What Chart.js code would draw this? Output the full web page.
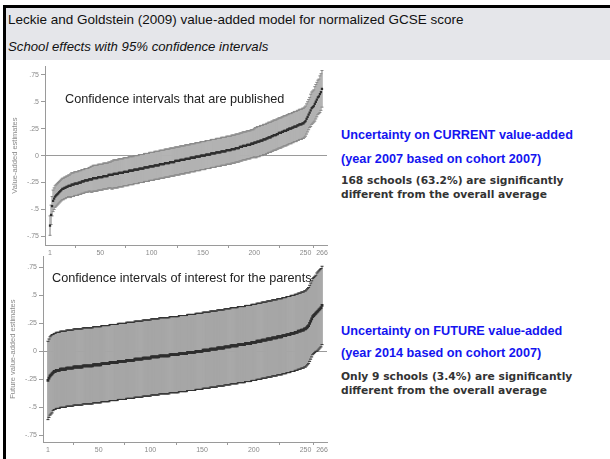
<!DOCTYPE html>
<html>
<head>
  <meta charset="utf-8">
  <title>Leckie and Goldstein (2009)</title>
  <script src="https://cdn.jsdelivr.net/npm/chart.js@4.4.1/dist/chart.umd.min.js"></script>
  <style>
    body { margin: 0; width: 610px; height: 459px; overflow: hidden; background: #fff; position: relative; font-family: "Liberation Sans", Arial, sans-serif; }
    .abs { position: absolute; white-space: nowrap; }
    #borderTop { left: 3px; top: 5px; width: 607px; height: 3px; background: #000; }
    #borderLeft { left: 3px; top: 5px; width: 3px; height: 454px; background: #000; }
    #header { left: 6px; top: 8px; width: 604px; height: 52px; background: #e5e6ea; }
    #title { left: 8px; top: 12px; font-size: 13.5px; color: #111; }
    #subtitle { left: 8px; top: 39px; font-size: 13.2px; font-style: italic; color: #111; }
    canvas { position: absolute; }
    .note { font-size: 12.7px; color: #222; }
    .blue { font-size: 12.7px; font-weight: bold; color: #1414f0; }
    .black { font-size: 10.7px; font-weight: bold; color: #333; font-family: "DejaVu Sans", Verdana, sans-serif; line-height: 14px; }
  </style>
</head>
<body>
  <div id="borderTop" class="abs"></div>
  <div id="borderLeft" class="abs"></div>
  <div id="header" class="abs"></div>
  <div id="title" class="abs">Leckie and Goldstein (2009) value-added model for normalized GCSE score</div>
  <div id="subtitle" class="abs">School effects with 95% confidence intervals</div>

  <canvas id="currentChart" width="340" height="200" style="left:0;top:60px"></canvas>
  <canvas id="futureChart" width="340" height="222" style="left:0;top:250px"></canvas>

  <div class="abs note" style="left:65px;top:92px">Confidence intervals that are published</div>
  <div class="abs note" style="left:52px;top:271px">Confidence intervals of interest for the parents</div>

  <div class="abs blue" style="left:341px;top:128px">Uncertainty on CURRENT value-added</div>
  <div class="abs blue" style="left:341px;top:152px">(year 2007 based on cohort 2007)</div>
  <div class="abs black" style="left:341px;top:174px">168 schools (63.2%) are significantly<br>different from the overall average</div>

  <div class="abs blue" style="left:341px;top:324px">Uncertainty on FUTURE value-added</div>
  <div class="abs blue" style="left:341px;top:346px">(year 2014 based on cohort 2007)</div>
  <div class="abs black" style="left:341px;top:370px">Only 9 schools (3.4%) are significantly<br>different from the overall average</div>

  <script>
    // ranks 1..266 (schools ordered by estimate)
    const schoolCount = 266;
    const ranks = Array.from({ length: schoolCount }, (_, i) => i + 1);
    const rankTicks = [1, 50, 100, 150, 200, 250, 266];
    const yTicks = [-0.75, -0.5, -0.25, 0, 0.25, 0.5, 0.75];
    const yTickLabels = ['-.75', '-.5', '-.25', '0', '.25', '.5', '.75'];

    // current value-added estimates (year 2007)
    const currentEst = [
      -0.65,-0.55,-0.47,-0.42,-0.40,-0.38,-0.37,-0.36,-0.35,-0.34,
      -0.33,-0.32,-0.31,-0.31,-0.30,-0.30,-0.29,-0.29,-0.28,-0.28,
      -0.28,-0.27,-0.27,-0.27,-0.26,-0.26,-0.26,-0.26,-0.25,-0.25,
      -0.25,-0.24,-0.24,-0.24,-0.23,-0.23,-0.23,-0.23,-0.22,-0.22,
      -0.22,-0.22,-0.21,-0.21,-0.21,-0.21,-0.21,-0.20,-0.20,-0.20,
      -0.20,-0.20,-0.19,-0.19,-0.19,-0.19,-0.19,-0.18,-0.18,-0.18,
      -0.18,-0.18,-0.17,-0.17,-0.17,-0.17,-0.17,-0.16,-0.16,-0.16,
      -0.16,-0.16,-0.15,-0.15,-0.15,-0.15,-0.15,-0.14,-0.14,-0.14,
      -0.14,-0.14,-0.13,-0.13,-0.13,-0.13,-0.13,-0.12,-0.12,-0.12,
      -0.12,-0.12,-0.11,-0.11,-0.11,-0.11,-0.11,-0.10,-0.10,-0.10,
      -0.10,-0.10,-0.09,-0.09,-0.09,-0.09,-0.09,-0.08,-0.08,-0.08,
      -0.08,-0.08,-0.07,-0.07,-0.07,-0.07,-0.07,-0.06,-0.06,-0.06,
      -0.06,-0.06,-0.05,-0.05,-0.05,-0.05,-0.05,-0.04,-0.04,-0.04,
      -0.04,-0.04,-0.03,-0.03,-0.03,-0.03,-0.03,-0.02,-0.02,-0.02,
      -0.02,-0.02,-0.01,-0.01,-0.01,-0.01,-0.01,0.00,0.00,0.00,
      0.00,0.00,0.01,0.01,0.01,0.01,0.01,0.02,0.02,0.02,
      0.02,0.02,0.03,0.03,0.03,0.03,0.03,0.04,0.04,0.04,
      0.04,0.04,0.05,0.05,0.05,0.05,0.05,0.06,0.06,0.06,
      0.06,0.07,0.07,0.07,0.07,0.08,0.08,0.08,0.09,0.09,
      0.09,0.09,0.10,0.10,0.10,0.10,0.11,0.11,0.11,0.12,
      0.12,0.12,0.13,0.13,0.13,0.14,0.14,0.14,0.15,0.15,
      0.15,0.16,0.16,0.17,0.17,0.17,0.18,0.18,0.19,0.19,
      0.19,0.20,0.20,0.21,0.21,0.21,0.22,0.22,0.23,0.23,
      0.23,0.24,0.24,0.25,0.25,0.25,0.26,0.26,0.27,0.27,
      0.27,0.28,0.28,0.29,0.29,0.29,0.30,0.30,0.31,0.32,
      0.34,0.36,0.38,0.40,0.42,0.44,0.45,0.46,0.48,0.50,
      0.52,0.54,0.55,0.57,0.59,0.62
    ];
    // half width of the 95% interval for each school
    const currentHalf = [
      0.09,0.09,0.09,0.10,0.10,0.10,0.10,0.10,0.10,0.10,
      0.10,0.10,0.10,0.10,0.10,0.10,0.10,0.10,0.10,0.10,
      0.11,0.11,0.11,0.11,0.11,0.11,0.11,0.11,0.11,0.11,
      0.11,0.11,0.11,0.11,0.11,0.11,0.11,0.11,0.11,0.11,
      0.12,0.12,0.12,0.12,0.12,0.12,0.12,0.12,0.12,0.12,
      0.12,0.12,0.12,0.12,0.12,0.12,0.12,0.12,0.12,0.12,
      0.13,0.13,0.13,0.13,0.13,0.13,0.13,0.13,0.13,0.13,
      0.13,0.13,0.13,0.13,0.13,0.13,0.13,0.13,0.13,0.13,
      0.13,0.13,0.13,0.13,0.13,0.13,0.13,0.13,0.13,0.13,
      0.13,0.13,0.13,0.13,0.13,0.13,0.13,0.13,0.13,0.13,
      0.13,0.13,0.13,0.13,0.13,0.13,0.13,0.13,0.13,0.13,
      0.13,0.13,0.13,0.13,0.13,0.13,0.13,0.13,0.13,0.13,
      0.13,0.13,0.13,0.13,0.13,0.13,0.13,0.13,0.13,0.13,
      0.13,0.13,0.13,0.13,0.13,0.13,0.13,0.13,0.13,0.13,
      0.13,0.13,0.13,0.13,0.13,0.13,0.13,0.13,0.13,0.13,
      0.13,0.13,0.13,0.13,0.13,0.13,0.13,0.13,0.13,0.13,
      0.13,0.13,0.13,0.13,0.13,0.13,0.13,0.13,0.13,0.13,
      0.13,0.13,0.13,0.13,0.13,0.13,0.13,0.13,0.13,0.13,
      0.13,0.13,0.13,0.13,0.13,0.13,0.13,0.13,0.13,0.13,
      0.13,0.13,0.13,0.13,0.13,0.13,0.13,0.13,0.13,0.13,
      0.14,0.14,0.14,0.14,0.14,0.14,0.14,0.14,0.14,0.14,
      0.14,0.14,0.14,0.14,0.14,0.14,0.14,0.14,0.14,0.14,
      0.14,0.14,0.14,0.14,0.14,0.14,0.14,0.14,0.14,0.14,
      0.14,0.14,0.14,0.14,0.14,0.14,0.14,0.14,0.14,0.14,
      0.14,0.14,0.14,0.14,0.14,0.14,0.14,0.14,0.14,0.14,
      0.14,0.14,0.14,0.14,0.15,0.15,0.15,0.15,0.16,0.16,
      0.16,0.16,0.16,0.17,0.17,0.17
    ];

    // future value-added estimates (year 2014)
    const futureEst = [
      -0.26,-0.24,-0.22,-0.21,-0.20,-0.19,-0.18,-0.18,-0.17,-0.17,
      -0.17,-0.17,-0.16,-0.16,-0.16,-0.16,-0.16,-0.16,-0.15,-0.15,
      -0.15,-0.15,-0.15,-0.15,-0.15,-0.14,-0.14,-0.14,-0.14,-0.14,
      -0.14,-0.14,-0.14,-0.14,-0.13,-0.13,-0.13,-0.13,-0.13,-0.13,
      -0.13,-0.13,-0.13,-0.13,-0.12,-0.12,-0.12,-0.12,-0.12,-0.12,
      -0.12,-0.12,-0.11,-0.11,-0.11,-0.11,-0.11,-0.11,-0.11,-0.11,
      -0.10,-0.10,-0.10,-0.10,-0.10,-0.10,-0.10,-0.10,-0.09,-0.09,
      -0.09,-0.09,-0.09,-0.09,-0.09,-0.09,-0.08,-0.08,-0.08,-0.08,
      -0.08,-0.08,-0.08,-0.08,-0.07,-0.07,-0.07,-0.07,-0.07,-0.07,
      -0.07,-0.07,-0.06,-0.06,-0.06,-0.06,-0.06,-0.06,-0.06,-0.06,
      -0.05,-0.05,-0.05,-0.05,-0.05,-0.05,-0.05,-0.05,-0.04,-0.04,
      -0.04,-0.04,-0.04,-0.04,-0.04,-0.04,-0.04,-0.04,-0.03,-0.03,
      -0.03,-0.03,-0.03,-0.03,-0.03,-0.03,-0.03,-0.02,-0.02,-0.02,
      -0.02,-0.02,-0.02,-0.02,-0.02,-0.01,-0.01,-0.01,-0.01,-0.01,
      -0.01,-0.01,-0.01,0.00,0.00,0.00,0.00,0.00,0.00,0.00,
      0.01,0.01,0.01,0.01,0.01,0.01,0.01,0.02,0.02,0.02,
      0.02,0.02,0.02,0.02,0.03,0.03,0.03,0.03,0.03,0.03,
      0.03,0.04,0.04,0.04,0.04,0.04,0.04,0.05,0.05,0.05,
      0.05,0.05,0.05,0.05,0.06,0.06,0.06,0.06,0.06,0.06,
      0.06,0.07,0.07,0.07,0.07,0.07,0.07,0.08,0.08,0.08,
      0.08,0.08,0.09,0.09,0.09,0.09,0.09,0.10,0.10,0.10,
      0.10,0.10,0.11,0.11,0.11,0.11,0.11,0.12,0.12,0.12,
      0.12,0.12,0.13,0.13,0.13,0.13,0.13,0.14,0.14,0.14,
      0.14,0.15,0.15,0.15,0.15,0.16,0.16,0.16,0.16,0.17,
      0.17,0.17,0.18,0.18,0.18,0.19,0.19,0.19,0.20,0.20,
      0.21,0.22,0.23,0.25,0.27,0.29,0.31,0.32,0.33,0.34,
      0.35,0.36,0.37,0.38,0.39,0.41
    ];
    const futureHalf = [
      0.35,0.35,0.35,0.35,0.35,0.34,0.34,0.34,0.34,0.34,
      0.34,0.34,0.34,0.34,0.34,0.34,0.34,0.34,0.34,0.34,
      0.34,0.34,0.34,0.34,0.34,0.34,0.34,0.34,0.34,0.34,
      0.34,0.34,0.34,0.34,0.34,0.34,0.34,0.34,0.34,0.34,
      0.34,0.34,0.34,0.34,0.34,0.34,0.34,0.34,0.34,0.34,
      0.34,0.34,0.34,0.34,0.34,0.34,0.34,0.34,0.34,0.34,
      0.34,0.34,0.34,0.34,0.34,0.34,0.34,0.34,0.34,0.34,
      0.34,0.34,0.34,0.34,0.34,0.34,0.34,0.34,0.34,0.34,
      0.34,0.34,0.34,0.34,0.34,0.34,0.34,0.34,0.34,0.34,
      0.34,0.34,0.34,0.34,0.34,0.34,0.34,0.34,0.34,0.34,
      0.34,0.34,0.34,0.34,0.34,0.34,0.34,0.34,0.34,0.34,
      0.34,0.34,0.34,0.34,0.34,0.34,0.34,0.34,0.34,0.34,
      0.34,0.34,0.34,0.34,0.34,0.34,0.34,0.34,0.34,0.34,
      0.34,0.34,0.34,0.34,0.34,0.34,0.34,0.34,0.34,0.34,
      0.34,0.34,0.34,0.34,0.34,0.34,0.34,0.34,0.34,0.34,
      0.34,0.34,0.34,0.34,0.34,0.34,0.34,0.34,0.34,0.34,
      0.34,0.34,0.34,0.34,0.34,0.34,0.34,0.34,0.34,0.34,
      0.34,0.34,0.34,0.34,0.34,0.34,0.34,0.34,0.34,0.34,
      0.34,0.34,0.34,0.34,0.34,0.34,0.34,0.34,0.34,0.34,
      0.34,0.34,0.34,0.34,0.34,0.34,0.34,0.34,0.34,0.34,
      0.34,0.34,0.34,0.34,0.34,0.34,0.34,0.34,0.34,0.34,
      0.34,0.34,0.34,0.34,0.34,0.34,0.34,0.34,0.34,0.34,
      0.34,0.34,0.34,0.34,0.34,0.34,0.34,0.34,0.34,0.34,
      0.34,0.34,0.34,0.34,0.34,0.34,0.34,0.34,0.34,0.34,
      0.34,0.34,0.34,0.34,0.34,0.34,0.34,0.34,0.34,0.34,
      0.34,0.34,0.34,0.34,0.34,0.34,0.34,0.34,0.34,0.34,
      0.35,0.35,0.35,0.35,0.35,0.35
    ];

    const tickFont = { family: 'Liberation Sans', size: 7 };
    const titleFont = { family: 'Liberation Sans', size: 7.5 };
    const axisGray = '#9a9a9a';

    function makeChart(canvasId, est, half, cfg) {
      const bars = ranks.map((r, i) => ({ x: r, y: [est[i] - half[i], est[i] + half[i]] }));
      const upper = ranks.map((r, i) => ({ x: r, y: est[i] + half[i] }));
      const lower = ranks.map((r, i) => ({ x: r, y: est[i] - half[i] }));
      const points = ranks.map((r, i) => ({ x: r, y: est[i] }));

      return new Chart(document.getElementById(canvasId), {
        type: 'bar',
        data: {
          datasets: [
            { type: 'line', data: points, showLine: false, pointStyle: 'rect',
              pointRadius: cfg.pointRadius, backgroundColor: '#2e2e2e', borderColor: '#2e2e2e',
              borderWidth: 0, order: 0 },
            { type: 'line', data: upper, showLine: false, pointStyle: 'line',
              pointRadius: 1.5, borderColor: cfg.capColor, borderWidth: 1, order: 1 },
            { type: 'line', data: lower, showLine: false, pointStyle: 'line',
              pointRadius: 1.5, borderColor: cfg.capColor, borderWidth: 1, order: 1 },
            { type: 'bar', data: bars, backgroundColor: cfg.barColor, barThickness: 1,
              grouped: false, order: 2 }
          ]
        },
        options: {
          responsive: false,
          animation: false,
          events: [],
          layout: { padding: cfg.padding },
          plugins: { legend: { display: false }, tooltip: { enabled: false } },
          scales: {
            x: {
              type: 'linear', min: cfg.xMin, max: cfg.xMax, offset: false,
              afterBuildTicks: s => { s.ticks = rankTicks.map(v => ({ value: v })); },
              afterFit: s => { s.height = cfg.xHeight; },
              ticks: { font: tickFont, color: '#8a8a8a', padding: 1, maxRotation: 0, autoSkip: false,
                callback: v => String(v) },
              grid: { drawOnChartArea: false, tickColor: axisGray, tickLength: 3 },
              border: { color: axisGray },
              title: { display: cfg.xTitle, text: 'Rank', font: titleFont, color: '#8a8a8a', padding: 1 }
            },
            y: {
              min: cfg.yMin, max: cfg.yMax,
              afterBuildTicks: s => { s.ticks = yTicks.map(v => ({ value: v })); },
              afterFit: s => { s.width = cfg.yWidth; },
              ticks: { font: tickFont, color: '#8a8a8a', padding: 2,
                callback: v => yTickLabels[yTicks.indexOf(v)] },
              grid: { color: c => (c.tick && c.tick.value === 0 ? axisGray : 'rgba(0,0,0,0)'),
                tickColor: axisGray, tickLength: 4, lineWidth: 1 },
              border: { color: axisGray },
              title: { display: true, text: cfg.yTitle, font: titleFont, color: '#8a8a8a',
                padding: { top: cfg.yTitlePad, bottom: 0 } }
            }
          }
        }
      });
    }

    makeChart('currentChart', currentEst, currentHalf, {
      pointRadius: 1.6, capColor: '#8a8a8a', barColor: '#b2b2b2',
      padding: { left: 0, top: 4, right: 13, bottom: 0 },
      xMin: -3.9, xMax: 270.9, xHeight: 15, xTitle: false,
      yMin: -0.83, yMax: 0.83, yWidth: 45, yTitle: 'Value-added estimates', yTitlePad: 10
    });

    makeChart('futureChart', futureEst, futureHalf, {
      pointRadius: 2, capColor: '#333', barColor: '#a6a6a6',
      padding: { left: 0, top: 5, right: 13, bottom: 0 },
      xMin: -3.8, xMax: 270.8, xHeight: 30, xTitle: true,
      yMin: -0.81, yMax: 0.85, yWidth: 43, yTitle: 'Future value-added estimates', yTitlePad: 8
    });
  </script>
</body>
</html>
